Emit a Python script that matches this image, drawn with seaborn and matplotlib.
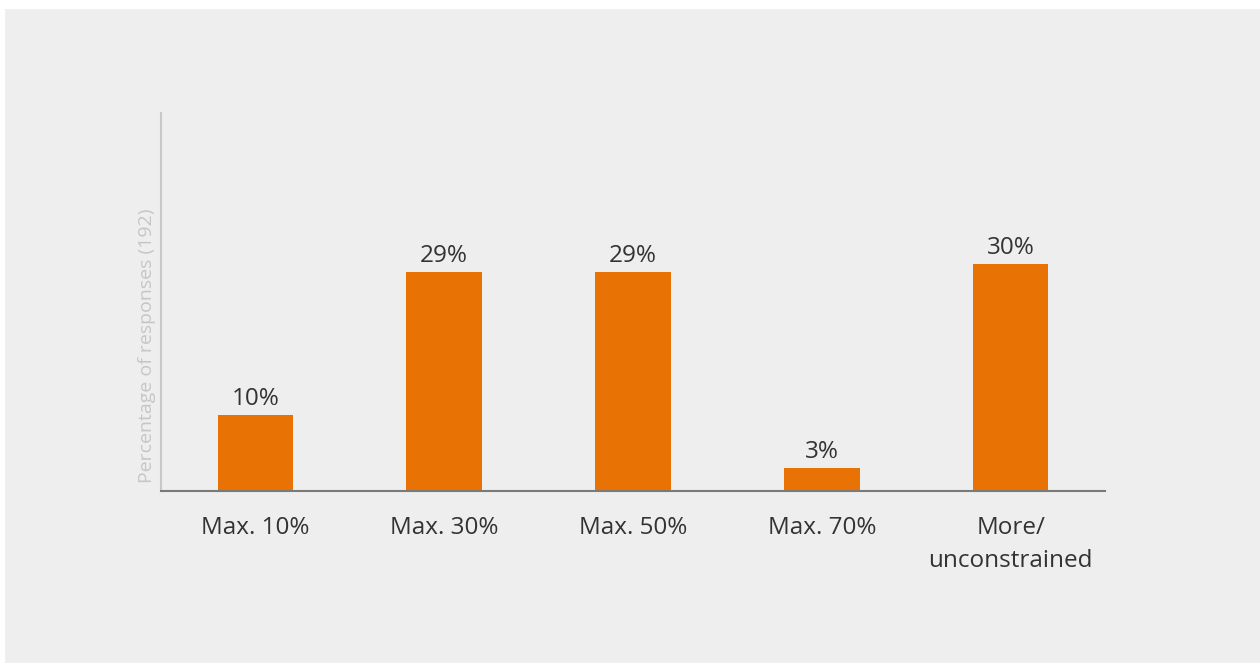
import matplotlib
matplotlib.use("Agg")
import matplotlib.pyplot as plt
from matplotlib.patches import Rectangle
import seaborn as sns
import pandas as pd

categories = ["Max. 10%", "Max. 30%", "Max. 50%", "Max. 70%", "More/\nunconstrained"]
values = [10, 29, 29, 3, 30]
value_labels = ["10%", "29%", "29%", "3%", "30%"]

sns.set_theme(style="white")
plt.rcParams["font.family"] = ["Open Sans", "DejaVu Sans"]

BG = "#eeeeee"
BAR = "#e87203"
TEXT = "#333333"

fig = plt.figure(figsize=(12.6, 6.63), dpi=100, facecolor="white")
fig.patches.append(Rectangle((5 / 1260, 0), 1, 1 - 9 / 663, transform=fig.transFigure,
                             facecolor=BG, edgecolor="none", zorder=-10))

ax = fig.add_axes([161 / 1260, 1 - 491 / 663, 944 / 1260, 378 / 663])
ax.set_facecolor(BG)
ax.patch.set_alpha(0)

df = pd.DataFrame({"category": categories, "value": values})
sns.barplot(data=df, x="category", y="value", color=BAR, saturation=1,
            width=0.40, linewidth=0, edgecolor="none", ax=ax)

ax.set_xlim(-0.5, 4.5)
ax.set_ylim(0, 50)

for i, (v, lab) in enumerate(zip(values, value_labels)):
    ax.annotate(lab, (i, v), xytext=(0, 3), textcoords="offset points",
                ha="center", va="bottom", fontsize=17.5, color=TEXT)

for s in ["top", "right"]:
    ax.spines[s].set_visible(False)
ax.spines["left"].set_color("#c8c8c8")
ax.spines["left"].set_linewidth(1.5)
ax.spines["bottom"].set_color("#7a7a7a")
ax.spines["bottom"].set_linewidth(1.5)

ax.set_yticks([])
ax.set_xlabel("")
ax.set_ylabel("")
ax.tick_params(axis="x", length=0, pad=18, labelsize=17.5, labelcolor=TEXT)
for t in ax.get_xticklabels():
    t.set_linespacing(1.5)

ax.text(-14 / 944, (491 - 346) / 378, "Percentage of responses (192)", transform=ax.transAxes,
        rotation=90, ha="center", va="center", fontsize=14, color="#c6c6c6")

fig.savefig("out.png", dpi=100, facecolor=fig.get_facecolor())
